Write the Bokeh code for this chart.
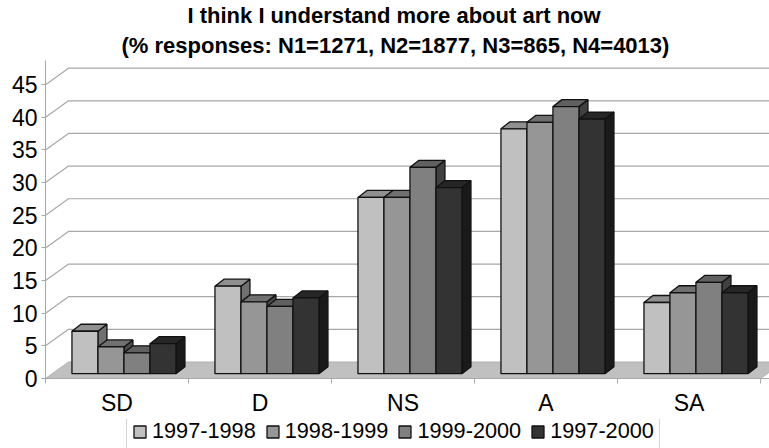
from bokeh.embed import file_html
from bokeh.layouts import column
from bokeh.models import ColumnDataSource, FixedTicker, Legend, LegendItem, Range1d, Title
from bokeh.plotting import figure
from bokeh.resources import INLINE

categories = ["SD", "D", "NS", "A", "SA"]
series_names = ["1997-1998", "1998-1999", "1999-2000", "1997-2000"]
values_9798 = [6.5, 13.4, 27.0, 37.5, 10.9]
values_9899 = [4.1, 11.0, 27.0, 38.5, 12.4]
values_9900 = [3.2, 10.3, 31.6, 40.9, 14.0]
values_9700 = [4.6, 11.6, 28.5, 39.0, 12.4]
y_ticks = [0, 5, 10, 15, 20, 25, 30, 35, 40, 45]

front_colors = ["#c0c0c0", "#969696", "#808080", "#333333"]
top_colors = ["#909090", "#707070", "#606060", "#262626"]
side_colors = ["#707070", "#4b4b4b", "#404040", "#1a1a1a"]

FONT = "Liberation Sans"
GRID = "#a8a8a8"
PX_X = 143.0    # pixels per category
PX_Y = 6.53     # pixels per percentage point

# Oblique projection: how far the back wall and the bar depth shift on screen
wall_dx, wall_dy = 23 / PX_X, 16.5 / PX_Y
bar_dx, bar_dy = 9 / PX_X, 7 / PX_Y
bar_base = 4.8 / PX_Y
bar_start, bar_width = 0.185, 26 / PX_X

title_lines = ["I think I understand more about art now",
               "(% responses: N1=1271, N2=1877, N3=865, N4=4013)"]
title_offsets = [142, 76]
title_gaps = [0, 6]

p = figure(
    width=769, height=419, output_backend="svg", toolbar_location=None,
    x_range=Range1d(0, 5 + 9 / PX_X), y_range=Range1d(0, 318 / PX_Y),
    min_border_left=45, min_border_right=0, min_border_top=60, min_border_bottom=41,
    outline_line_color=None, background_fill_color="white",
)
# Later titles stack above earlier ones
for line, off, gap in zip(reversed(title_lines), reversed(title_offsets), reversed(title_gaps)):
    p.add_layout(Title(text=line, align="left", offset=off, standoff=gap, text_font=FONT,
                       text_line_height=0.9, text_font_size="22px", text_font_style="bold",
                       text_color="black"), "above")
p.grid.visible = False

# Floor
p.patch([0, 5, 5 + wall_dx, wall_dx], [0, 0, wall_dy, wall_dy],
        fill_color="#c0c0c0", line_color="#b0b0b0", line_width=1)

# Wall grid lines, folded from the axis back onto the rear plane
for tick in y_ticks[1:]:
    p.line([0, wall_dx, 5 + wall_dx], [tick, tick + wall_dy, tick + wall_dy],
           line_color=GRID, line_width=1.2)

all_values = [values_9798, values_9899, values_9900, values_9700]
for s, vals in enumerate(all_values):
    lefts = [i + bar_start + s * bar_width for i in range(len(categories))]
    rights = [x + bar_width for x in lefts]
    tops = [bar_base + v for v in vals]

    side_xs = [[r, r + bar_dx, r + bar_dx, r] for r in rights]
    side_ys = [[bar_base, bar_base + bar_dy, t + bar_dy, t] for t in tops]
    p.patches(side_xs, side_ys, fill_color=side_colors[s],
              line_color="#111111", line_width=1.3)

    top_xs = [[l, l + bar_dx, r + bar_dx, r] for l, r in zip(lefts, rights)]
    top_ys = [[t, t + bar_dy, t + bar_dy, t] for t in tops]
    p.patches(top_xs, top_ys, fill_color=top_colors[s],
              line_color="#111111", line_width=1.3)

    src = ColumnDataSource(dict(left=lefts, right=rights, top=tops, bottom=[bar_base] * len(vals)))
    p.quad(left="left", right="right", top="top", bottom="bottom", source=src,
           fill_color=front_colors[s], line_color="#111111", line_width=1.3)

# Axes
p.yaxis.ticker = FixedTicker(ticks=y_ticks)
p.yaxis.axis_line_color = GRID
p.yaxis.major_tick_line_color = GRID
p.yaxis.major_tick_out = 4
p.yaxis.major_tick_in = 0
p.yaxis.minor_tick_line_color = None
p.yaxis.major_label_text_font = FONT
p.yaxis.major_label_text_font_size = "23px"
p.yaxis.major_label_text_color = "black"
p.yaxis.major_label_standoff = 4

centers = [i + 0.5 for i in range(len(categories))]
p.xaxis.ticker = FixedTicker(ticks=centers, minor_ticks=list(range(len(categories) + 1)))
p.xaxis.major_label_overrides = {c: n for c, n in zip(centers, categories)}
p.xaxis.axis_line_color = GRID
p.xaxis.major_tick_line_color = None
p.xaxis.minor_tick_line_color = GRID
p.xaxis.minor_tick_out = 5
p.xaxis.minor_tick_in = 0
p.xaxis.major_label_text_font = FONT
p.xaxis.major_label_text_font_size = "23px"
p.xaxis.major_label_text_color = "black"
p.xaxis.major_label_standoff = 5

# The legend lives in its own strip under the chart; its frame lines up with the chart's
strip = figure(
    width=769, height=29, output_backend="svg", toolbar_location=None,
    x_range=Range1d(0, 1), y_range=Range1d(0, 1), x_axis_type=None, y_axis_type=None,
    min_border=0, outline_line_color=None,
)
strip.grid.visible = False
nan = float("nan")
legend_items = []
for name, color in zip(series_names, front_colors):
    swatch = strip.quad(left=[nan], right=[nan], top=[nan], bottom=[nan], fill_color=color,
                        line_color="#111111", line_width=1.3)
    legend_items.append(LegendItem(label=name, renderers=[swatch]))
strip.add_layout(Legend(
    items=legend_items, orientation="horizontal", location=(81, -2),
    glyph_width=15, glyph_height=15, label_standoff=5, spacing=9,
    padding=5, margin=0, border_line_color=GRID, border_line_width=1,
    label_text_font=FONT, label_text_font_size="21.7px", label_text_color="black",
    background_fill_alpha=1,
), "center")

page = column(p, strip, spacing=0)
open("out.html", "w").write(file_html(page, INLINE))
